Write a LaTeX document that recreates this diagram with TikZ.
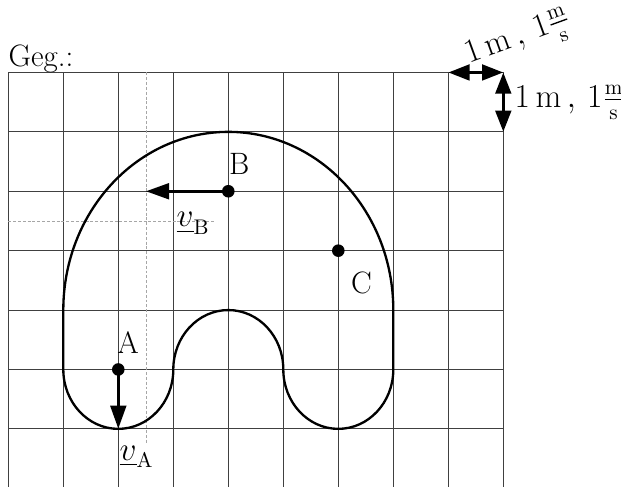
\documentclass[tikz,border=0pt]{standalone}
\usepackage{amsmath}
\usetikzlibrary{arrows.meta}

\begin{document}
\begin{tikzpicture}[
        x=1cm, y=1.08cm,
        every node/.style={font=\fontsize{16pt}{19pt}\selectfont},
        gridline/.style={draw=black!75, line width=0.4pt},
        helpline/.style={draw=black!35, line width=0.3pt, dash pattern=on 1.5pt off 1pt},
        contour/.style={draw=black, line width=1.2pt},
        dot/.style={circle, fill=black, inner sep=0pt, minimum size=6.5pt},
        vel/.style={-{Triangle[length=12pt, width=8pt]}, line width=1.8pt},
        scalearrow/.style={{Triangle[length=11pt, width=8pt]}-{Triangle[length=11pt, width=8pt]}, line width=1.8pt}
    ]
    \useasboundingbox (-0.151,0.03) rectangle (11.14,8.22);
    % raster
    \foreach \i in {0,...,9} \draw[gridline] (\i,0) -- (\i,7);
    \foreach \j in {1,...,7} \draw[gridline] (0,\j) -- (9,\j);
    \draw[helpline] (2.5,7) -- (2.5,0.77);
    \draw[helpline] (0,4.5) -- (3.75,4.5);
    \node[anchor=base west, inner sep=0pt] (geg) at (0,7.1) {Geg.:};
    % Scheibe
    \draw[contour] (1,3) arc (180:0:3) -- (7,2) arc (0:-180:1) arc (0:180:1) arc (0:-180:1) -- cycle;
    % Punkte
    \node[dot] (A) at (2,2) {};
    \node[dot] (B) at (4,5) {};
    \node[dot] (C) at (6,4) {};
    \node (labA) at (2.18,2.45) {A};
    \node (labB) at (4.2,5.46) {B};
    \node (labC) at (6.42,3.46) {C};
    \coordinate (vAend) at (2,1);
    \coordinate (vBend) at (2.5,5);
    \draw[vel] (A.center) -- (vAend);
    \draw[vel] (B.center) -- (vBend);
    \node (labvA) at (2.33,0.53) {$\underline{v}_\mathrm{A}$};
    \node (labvB) at (3.36,4.46) {$\underline{v}_\mathrm{B}$};
    % Massstab
    \coordinate (s1) at (8,7);
    \coordinate (s2) at (9,7);
    \coordinate (s3) at (9,6);
    \draw[scalearrow] (s1) -- (s2);
    \draw[scalearrow] (s2) -- (s3);
    \node[rotate=20] (sx) at (9.28,7.55) {$1\,\mathrm{m}\,,\,1\frac{\mathrm{m}}{\mathrm{s}}$};
    \node[anchor=west, inner sep=0pt] (sy) at (9.2,6.5) {$1\,\mathrm{m}\,,\,1\frac{\mathrm{m}}{\mathrm{s}}$};
\end{tikzpicture}
\end{document}
